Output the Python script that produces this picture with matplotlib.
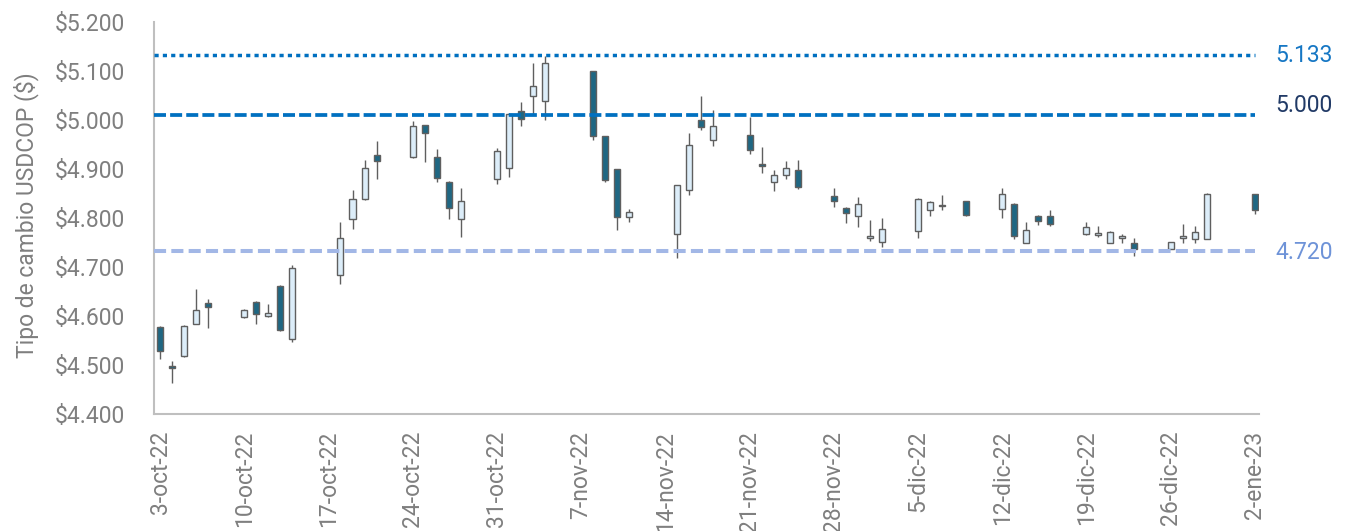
import matplotlib
matplotlib.use("Agg")
import matplotlib.pyplot as plt
import pandas as pd
from matplotlib.ticker import FuncFormatter, FixedLocator

# ---------------- data ----------------
dates = ["2022-10-03", "2022-10-04", "2022-10-05", "2022-10-06", "2022-10-07",
         "2022-10-10", "2022-10-11", "2022-10-12", "2022-10-13", "2022-10-14",
         "2022-10-18", "2022-10-19", "2022-10-20", "2022-10-21",
         "2022-10-24", "2022-10-25", "2022-10-26", "2022-10-27", "2022-10-28",
         "2022-10-31", "2022-11-01", "2022-11-02", "2022-11-03", "2022-11-04",
         "2022-11-08", "2022-11-09", "2022-11-10", "2022-11-11",
         "2022-11-15", "2022-11-16", "2022-11-17", "2022-11-18",
         "2022-11-21", "2022-11-22", "2022-11-23", "2022-11-24", "2022-11-25",
         "2022-11-28", "2022-11-29", "2022-11-30", "2022-12-01", "2022-12-02",
         "2022-12-05", "2022-12-06", "2022-12-07", "2022-12-09",
         "2022-12-12", "2022-12-13", "2022-12-14", "2022-12-15", "2022-12-16",
         "2022-12-19", "2022-12-20", "2022-12-21", "2022-12-22", "2022-12-23",
         "2022-12-26", "2022-12-27", "2022-12-28", "2022-12-29",
         "2023-01-02"]

open_ = [4578, 4498, 4518, 4584, 4627,
         4598, 4629, 4600, 4661, 4553,
         4683, 4798, 4838, 4929,
         4924, 4989, 4925, 4874, 4798,
         4879, 4903, 5019, 5048, 5038,
         5099, 4968, 4899, 4803,
         4767, 4857, 4999, 4959,
         4969, 4910, 4873, 4888, 4898,
         4844, 4820, 4804, 4759, 4752,
         4773, 4817, 4825, 4834,
         4818, 4829, 4748, 4804, 4805,
         4767, 4765, 4748, 4760, 4748,
         4737, 4759, 4758, 4758,
         4849]

high = [4579, 4508, 4581, 4655, 4635,
        4614, 4631, 4625, 4663, 4704,
        4792, 4858, 4918, 4957,
        4997, 4990, 4940, 4875, 4861,
        4942, 5014, 5036, 5116, 5131,
        5100, 4968, 4900, 4818,
        4867, 4973, 5049, 5020,
        5007, 4944, 4898, 4916, 4918,
        4861, 4822, 4843, 4796, 4799,
        4840, 4835, 4847, 4835,
        4861, 4830, 4791, 4807, 4816,
        4791, 4784, 4774, 4767, 4759,
        4752, 4787, 4784, 4852,
        4850]

low = [4512, 4463, 4517, 4583, 4575,
       4596, 4584, 4598, 4570, 4547,
       4665, 4778, 4837, 4880,
       4922, 4915, 4874, 4797, 4761,
       4869, 4884, 4988, 5010, 4999,
       4959, 4873, 4775, 4791,
       4719, 4847, 4980, 4947,
       4931, 4892, 4855, 4879, 4860,
       4822, 4789, 4781, 4754, 4741,
       4759, 4804, 4816, 4804,
       4799, 4758, 4748, 4785, 4784,
       4766, 4762, 4748, 4750, 4723,
       4737, 4748, 4748, 4758,
       4808]

close = [4529, 4494, 4580, 4612, 4618,
         4612, 4604, 4607, 4571, 4697,
         4760, 4838, 4903, 4916,
         4988, 4973, 4882, 4821, 4834,
         4937, 5013, 5002, 5069, 5116,
         4967, 4878, 4803, 4812,
         4867, 4948, 4985, 4988,
         4938, 4906, 4888, 4903, 4863,
         4835, 4810, 4829, 4764, 4777,
         4839, 4832, 4827, 4806,
         4848, 4763, 4776, 4793, 4787,
         4782, 4769, 4771, 4764, 4737,
         4752, 4764, 4771, 4849,
         4816]

tick_labels = ["3-oct-22", "10-oct-22", "17-oct-22", "24-oct-22", "31-oct-22",
               "7-nov-22", "14-nov-22", "21-nov-22", "28-nov-22", "5-dic-22",
               "12-dic-22", "19-dic-22", "26-dic-22", "2-ene-23"]

ref_levels = [5133, 5010, 4732]
ref_labels = ["5.133", "5.000", "4.720"]

# ---------------- style ----------------
plt.rcParams['font.family'] = ['Roboto', 'DejaVu Sans']
GRAY_TXT = "#7f7f7f"
SPINE = "#bfbfbf"
DARK = "#1f6783"
LIGHT = "#dcedf9"
EDGE = "#5f5f5f"

fig = plt.figure(figsize=(13.5, 5.31), dpi=100)
ax = fig.add_axes([154 / 1350, 1 - 414 / 531, (1259 - 154) / 1350, (414 - 22) / 531])

start = pd.Timestamp("2022-10-03")
x = [(pd.Timestamp(d) - start).days for d in dates]
end_x = (pd.Timestamp("2023-01-02") - start).days

# wicks
ax.vlines(x, low, high, color=EDGE, linewidth=1.0, zorder=2)
# bodies
for xi, o, c in zip(x, open_, close):
    up = c >= o
    bottom = min(o, c)
    h = max(abs(c - o), 1.5)
    ax.bar(xi, h, bottom=bottom, width=0.5, color=LIGHT if up else DARK,
           edgecolor=EDGE, linewidth=1.0, zorder=3)

# reference lines
ax.plot([-0.5, end_x], [ref_levels[0]] * 2, color="#0070c0", linewidth=2.5,
        linestyle=(0, (1.2, 1.2)), dash_capstyle="butt", zorder=4)
ax.plot([-0.5, end_x], [ref_levels[1]] * 2, color="#0070c0", linewidth=2.7,
        linestyle=(0, (3.2, 1.1)), dash_capstyle="butt", zorder=4)
ax.plot([-0.5, end_x], [ref_levels[2]] * 2, color="#a2b7e6", linewidth=2.9,
        linestyle=(0, (3.0, 1.3)), dash_capstyle="butt", zorder=4)

label_colors = ["#1677c4", "#213a66", "#6e93d8"]
label_offsets = [-1, 10, -1]
for lvl, txt, col, off in zip(ref_levels, ref_labels, label_colors, label_offsets):
    ax.annotate(txt, xy=(1.0145, lvl), xycoords=("axes fraction", "data"),
                xytext=(0, off), textcoords="offset pixels",
                ha="left", va="center", fontsize=16.5, color=col,
                annotation_clip=False)

# axes
ax.set_xlim(-0.5, end_x + 0.35)
ax.set_ylim(4400, 5200)
ax.xaxis.set_major_locator(FixedLocator(list(range(0, end_x + 1, 7))))
ax.set_xticklabels(tick_labels, rotation=90)
ax.yaxis.set_major_locator(FixedLocator(list(range(4400, 5201, 100))))
ax.yaxis.set_major_formatter(FuncFormatter(lambda v, p: "$" + f"{int(v):,}".replace(",", ".")))
ax.tick_params(axis="both", length=0, labelsize=16.5, labelcolor=GRAY_TXT)
ax.tick_params(axis="y", pad=21)
ax.tick_params(axis="x", pad=12)
for s in ["top", "right"]:
    ax.spines[s].set_visible(False)
for s in ["left", "bottom"]:
    ax.spines[s].set_color(SPINE)
    ax.spines[s].set_linewidth(1.5)

fig.text(26 / 1350, 1 - 215 / 531, "Tipo de cambio USDCOP ($)", rotation=90,
         ha="center", va="center", fontsize=16.5, color=GRAY_TXT)

fig.savefig("out.png", dpi=100)
